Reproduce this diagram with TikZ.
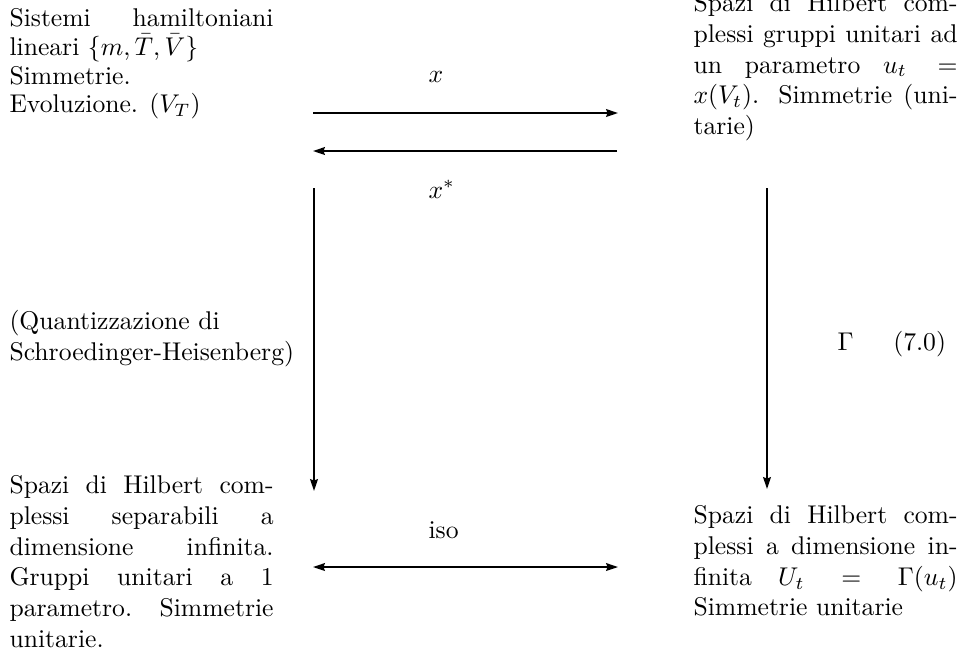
\documentclass[tikz,border=0pt]{standalone}
\usepackage{amsmath,amssymb}
\usepackage{tikz}
\usetikzlibrary{arrows.meta}

\begin{document}
\begin{tikzpicture}[x=0.39pt,y=-0.39pt,
  blocco/.style={anchor=north west,inner sep=0pt,text width=103pt,align=justify},
  etich/.style={anchor=base west,inner sep=0pt},
  freccia/.style={line width=0.75pt,-{Stealth[length=4.6pt,width=3pt,inset=0.5pt]}},
  doppia/.style={line width=0.75pt,{Stealth[length=4.6pt,width=3pt,inset=0.5pt]}-{Stealth[length=4.6pt,width=3pt,inset=0.5pt]}}]
  \useasboundingbox (0,0) rectangle (964,655);
  % the four corners of the square
  \node[blocco,font=\fontsize{10}{11.2}\selectfont] (hamilt) at (9,8) {Sistemi hamiltoniani\linebreak lineari $\{m,\bar{T},\bar{V}\}$\\ Simmetrie.\\ Evoluzione. $(V_T)$};
  \node[blocco] (hilbA) at (693,-7) {Spazi di Hilbert com-\linebreak plessi gruppi unitari ad\linebreak un parametro $u_t =$\linebreak $x(V_t)$. Simmetrie (uni-\linebreak tarie)};
  \node[blocco] (hilbB) at (9,475) {Spazi di Hilbert com-\linebreak plessi separabili a\linebreak dimensione infinita.\linebreak Gruppi unitari a 1\linebreak parametro. Simmetrie\linebreak unitarie.};
  \node[blocco] (hilbC) at (693,505) {Spazi di Hilbert com-\linebreak plessi a dimensione in-\linebreak finita $U_t = \Gamma(u_t)$\linebreak Simmetrie unitarie};
  \node[anchor=north west,inner sep=0pt,align=left] (quant) at (9,310) {(Quantizzazione di\\ Schroedinger-Heisenberg)};
  % labels of the maps
  \node[etich] (lx) at (428,82) {$x$};
  \node[etich] (lxs) at (428,198) {$x^*$};
  \node[etich] (liso) at (428,538) {iso};
  \node[etich] (lgam) at (837,350) {$\Gamma$\hspace{15.5pt}(7.0)};
  % arrow ends
  \coordinate (xa) at (313,113);
  \coordinate (xb) at (618,113);
  \coordinate (ya) at (313,151);
  \coordinate (yb) at (617,151);
  \coordinate (qa) at (314,188);
  \coordinate (qb) at (314,491);
  \coordinate (ga) at (767,188);
  \coordinate (gb) at (767,489);
  \coordinate (ia) at (313,567);
  \coordinate (ib) at (618,567);
  \draw[freccia] (xa) -- (xb);
  \draw[freccia] (yb) -- (ya);
  \draw[freccia] (qa) -- (qb);
  \draw[freccia] (ga) -- (gb);
  \draw[doppia] (ia) -- (ib);
\end{tikzpicture}
\end{document}
